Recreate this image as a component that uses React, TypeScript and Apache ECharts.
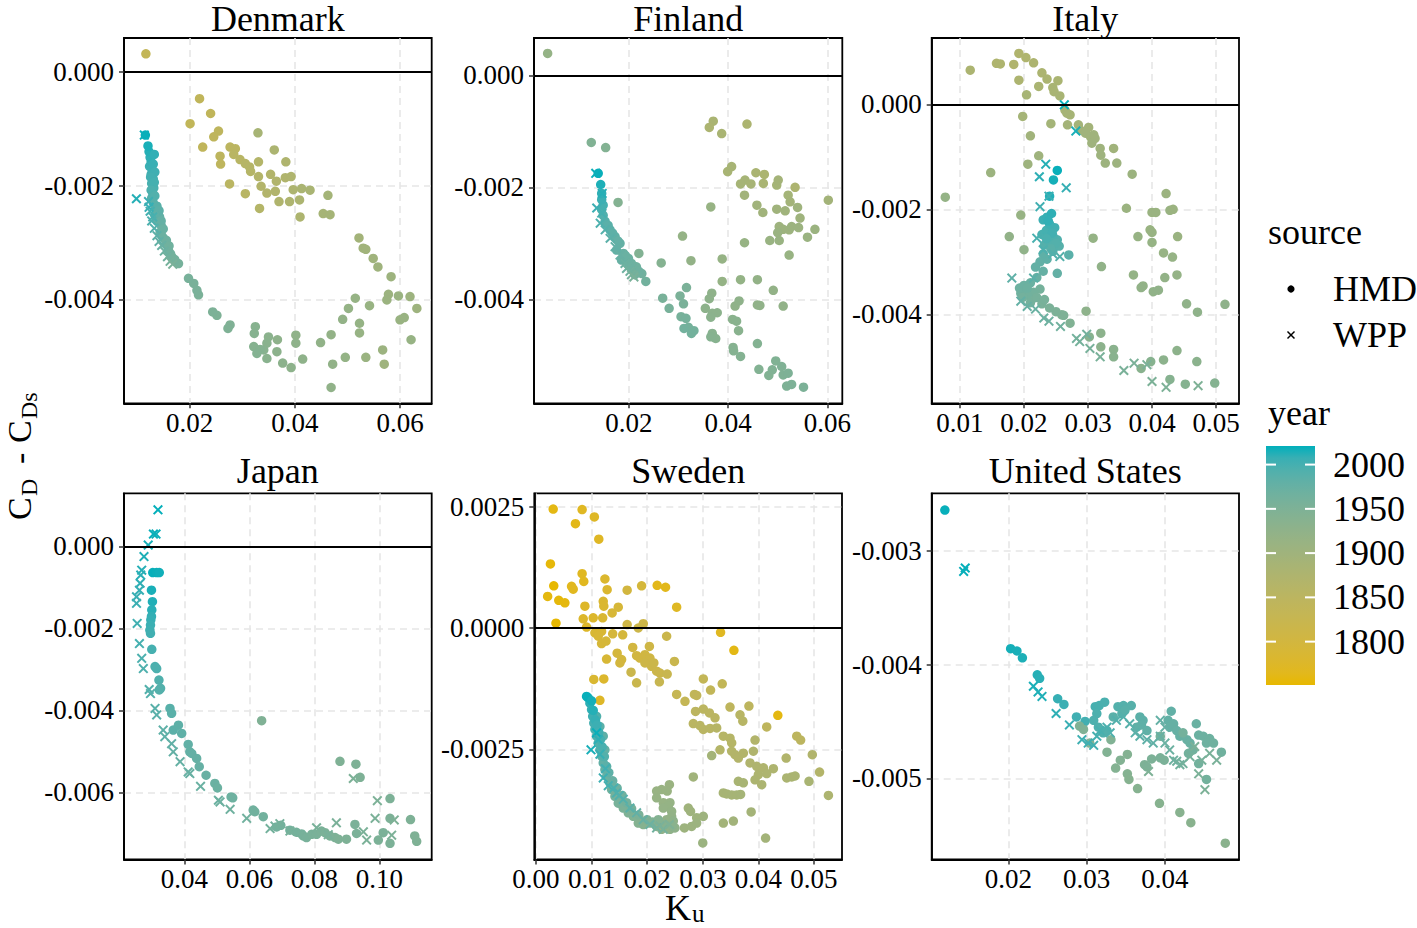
import React, { useEffect, useRef } from "react";
import * as echarts from "echarts";

type P = [number, number, number]; // [K_u, C_D - C_Ds, year]

const countries = ["Denmark", "Finland", "Italy", "Japan", "Sweden", "United States"];
const sources = ["HMD", "WPP"];

const denmarkHMD: P[] = [
  [0.0117,0.00032,1835],[0.0219,-0.00047,1840],[0.0240,-0.00073,1841],[0.0201,-0.00091,1838],[0.0255,-0.00104,1845],
  [0.0246,-0.00114,1843],[0.0330,-0.00107,1888],[0.0225,-0.00132,1842],[0.0277,-0.00132,1850],[0.0287,-0.00135,1852],
  [0.0284,-0.00145,1855],[0.0258,-0.00148,1848],[0.0259,-0.00162,1846],[0.0296,-0.00154,1858],[0.0306,-0.00161,1860],
  [0.0314,-0.00167,1862],[0.0331,-0.00158,1865],[0.0361,-0.00137,1880],[0.0383,-0.00158,1875],[0.0316,-0.00175,1863],
  [0.0331,-0.00184,1866],[0.0354,-0.00180,1868],[0.0365,-0.00192,1870],[0.0382,-0.00186,1872],[0.0393,-0.00184,1874],
  [0.0276,-0.00197,1854],[0.0306,-0.00214,1857],[0.0336,-0.00201,1867],[0.0347,-0.00213,1869],[0.0363,-0.00210,1871],
  [0.0370,-0.00228,1873],[0.0390,-0.00228,1876],[0.0397,-0.00207,1878],[0.0413,-0.00205,1882],[0.0429,-0.00208,1885],
  [0.0409,-0.00225,1879],[0.0410,-0.00255,1877],[0.0333,-0.00240,1864],[0.0463,-0.00217,1892],[0.0454,-0.00249,1890],
  [0.0467,-0.00251,1891],[0.0522,-0.00292,1895],[0.0530,-0.00310,1897],[0.0535,-0.00312,1898],[0.0549,-0.00328,1900],
  [0.0558,-0.00343,1902],[0.0583,-0.00360,1904],[0.0578,-0.00391,1906],[0.0575,-0.00401,1908],[0.0597,-0.00394,1910],
  [0.0619,-0.00395,1905],[0.0632,-0.00416,1903],[0.0600,-0.00436,1912],[0.0608,-0.00432,1911],[0.0621,-0.00471,1914],
  [0.0515,-0.00398,1916],[0.0502,-0.00416,1918],[0.0542,-0.00411,1913],[0.0491,-0.00435,1920],[0.0523,-0.00442,1917],
  [0.0523,-0.00459,1915],[0.0469,-0.00462,1921],[0.0449,-0.00476,1923],[0.0496,-0.00502,1919],[0.0535,-0.00502,1909],
  [0.0567,-0.00489,1907],[0.0570,-0.00514,1901],[0.0472,-0.00514,1922],[0.0469,-0.00555,1924],[0.0415,-0.00505,1926],
  [0.0402,-0.00463,1925],[0.0402,-0.00477,1927],[0.0393,-0.00520,1929],[0.0377,-0.00512,1930],[0.0367,-0.00471,1928],
  [0.0350,-0.00466,1932],[0.0347,-0.00477,1934],[0.0366,-0.00492,1931],[0.0347,-0.00504,1935],[0.0341,-0.00489,1936],
  [0.0325,-0.00448,1937],[0.0323,-0.00460,1938],[0.0322,-0.00483,1939],[0.0334,-0.00488,1940],[0.0328,-0.00495,1941],
  [0.0277,-0.00445,1947],[0.0273,-0.00451,1948],[0.0252,-0.00428,1950],[0.0244,-0.00422,1951],[0.0217,-0.00392,1954],
  [0.0214,-0.00384,1955],[0.0208,-0.00372,1956],[0.0198,-0.00363,1957],[0.0179,-0.00337,1959],[0.0172,-0.00330,1961],
  [0.0164,-0.00320,1963],[0.0160,-0.00314,1965],[0.0155,-0.00302,1967],[0.0150,-0.00292,1969],[0.0144,-0.00282,1972],
  [0.0146,-0.00270,1975],[0.0138,-0.00262,1980],[0.0143,-0.00255,1978],[0.0140,-0.00248,1982],[0.0135,-0.00240,1986],
  [0.0128,-0.00222,1990],[0.0130,-0.00213,1994],[0.0132,-0.00204,1996],[0.0128,-0.00196,1998],[0.0131,-0.00188,2000],
  [0.0127,-0.00180,2002],[0.0129,-0.00172,2004],[0.0124,-0.00166,2006],[0.0127,-0.00158,2008],[0.0125,-0.00150,2010],
  [0.0123,-0.00140,2012],[0.0121,-0.00130,2015],[0.0116,-0.00111,2019],
  [0.0133,-0.00145,2009],[0.0131,-0.00162,2007],[0.0134,-0.00176,2003],[0.0126,-0.00185,2001],[0.0133,-0.00194,1999],
  [0.0127,-0.00208,1995],[0.0134,-0.00218,1992],[0.0131,-0.00230,1988],[0.0138,-0.00236,1987],[0.0142,-0.00244,1984],
  [0.0134,-0.00252,1983],[0.0146,-0.00262,1977],[0.0150,-0.00276,1973],[0.0147,-0.00288,1971],[0.0156,-0.00296,1968],
  [0.0161,-0.00306,1966],[0.0167,-0.00326,1962]
];
const denmarkWPP: P[] = [
  [0.0114,-0.00111,2018],[0.0099,-0.00223,2012],[0.0122,-0.00228,2005],[0.0123,-0.00238,2008],[0.0125,-0.00245,2000],
  [0.0130,-0.00255,1998],[0.0128,-0.00262,1995],[0.0133,-0.00275,1990],[0.0138,-0.00288,1985],[0.0142,-0.00298,1980],
  [0.0147,-0.00305,1975],[0.0152,-0.00315,1970],[0.0158,-0.00325,1965],[0.0163,-0.00333,1960],[0.0168,-0.00338,1955]
];

const finlandHMD: P[] = [
  [0.0036,0.00039,1918],[0.0370,-0.00082,1882],[0.0362,-0.00093,1880],[0.0387,-0.00104,1884],[0.0438,-0.00087,1879],
  [0.0399,-0.00172,1886],[0.0407,-0.00163,1888],[0.0434,-0.00187,1890],[0.0446,-0.00194,1887],[0.0425,-0.00194,1889],
  [0.0456,-0.00174,1883],[0.0473,-0.00177,1881],[0.0471,-0.00193,1885],[0.0498,-0.00196,1891],[0.0501,-0.00187,1893],
  [0.0535,-0.00200,1878],[0.0521,-0.00214,1892],[0.0525,-0.00226,1894],[0.0602,-0.00223,1895],[0.0433,-0.00214,1896],
  [0.0458,-0.00232,1897],[0.0470,-0.00245,1898],[0.0498,-0.00239,1899],[0.0515,-0.00242,1900],[0.0540,-0.00236,1901],
  [0.0545,-0.00255,1902],[0.0503,-0.00270,1903],[0.0511,-0.00275,1904],[0.0523,-0.00276,1905],[0.0528,-0.00270,1906],
  [0.0542,-0.00272,1907],[0.0575,-0.00275,1908],[0.0560,-0.00289,1909],[0.0500,-0.00281,1910],[0.0484,-0.00295,1911],
  [0.0503,-0.00295,1912],[0.0523,-0.00321,1913],[0.0365,-0.00235,1914],[0.0433,-0.00299,1915],[0.0388,-0.00328,1916],
  [0.0388,-0.00368,1917],[0.0425,-0.00365,1919],[0.0459,-0.00365,1920],[0.0491,-0.00384,1921],[0.0511,-0.00412,1922],
  [0.0459,-0.00410,1923],[0.0464,-0.00411,1924],[0.0414,-0.00412,1925],[0.0422,-0.00403,1926],[0.0367,-0.00389,1927],
  [0.0362,-0.00399,1928],[0.0354,-0.00416,1929],[0.0378,-0.00424,1930],[0.0368,-0.00425,1931],[0.0365,-0.00432,1932],
  [0.0409,-0.00436,1933],[0.0417,-0.00439,1934],[0.0421,-0.00456,1935],[0.0368,-0.00461,1936],[0.0375,-0.00470,1937],
  [0.0365,-0.00467,1938],[0.0410,-0.00486,1939],[0.0411,-0.00492,1940],[0.0425,-0.00502,1941],[0.0459,-0.00479,1942],
  [0.0462,-0.00525,1943],[0.0482,-0.00536,1944],[0.0489,-0.00526,1945],[0.0496,-0.00510,1946],[0.0508,-0.00520,1947],
  [0.0511,-0.00535,1948],[0.0521,-0.00532,1949],[0.0518,-0.00555,1950],[0.0528,-0.00552,1951],[0.0552,-0.00557,1952],
  [0.0308,-0.00287,1918],[0.0325,-0.00331,1921],[0.0265,-0.00335,1940],[0.0220,-0.00318,1944],[0.0316,-0.00379,1953],
  [0.0303,-0.00394,1954],[0.0310,-0.00408,1955],[0.0268,-0.00398,1956],[0.0281,-0.00416,1957],[0.0305,-0.00431,1958],
  [0.0315,-0.00434,1959],[0.0320,-0.00450,1960],[0.0331,-0.00456,1961],[0.0326,-0.00461,1962],[0.0311,-0.00452,1963],
  [0.0124,-0.00120,1945],[0.0153,-0.00129,1943],[0.0178,-0.00227,1942],[0.0234,-0.00368,1964],[0.0226,-0.00354,1965],
  [0.0210,-0.00348,1966],[0.0215,-0.00342,1967],[0.0220,-0.00350,1968],[0.0205,-0.00336,1969],[0.0200,-0.00340,1970],
  [0.0199,-0.00327,1971],[0.0189,-0.00318,1973],[0.0185,-0.00330,1975],[0.0182,-0.00300,1977],[0.0175,-0.00312,1979],
  [0.0172,-0.00288,1981],[0.0162,-0.00276,1984],[0.0152,-0.00261,1988],[0.0148,-0.00250,1992],[0.0145,-0.00240,1996],
  [0.0148,-0.00232,2000],[0.0145,-0.00222,2005],[0.0145,-0.00211,2010],[0.0143,-0.00195,2014],[0.0138,-0.00175,2019],
  [0.0158,-0.00268,1986],[0.0167,-0.00282,1983],[0.0178,-0.00296,1978],[0.0193,-0.00322,1972],[0.0212,-0.00356,1963]
];
const finlandWPP: P[] = [
  [0.0133,-0.00175,2018],[0.0146,-0.00211,2012],[0.0135,-0.00237,2005],[0.0145,-0.00246,2000],[0.0142,-0.00264,1995],
  [0.0152,-0.00276,1990],[0.0162,-0.00291,1985],[0.0172,-0.00306,1980],[0.0182,-0.00321,1975],[0.0192,-0.00336,1970],
  [0.0195,-0.00345,1968],[0.0202,-0.00350,1965],[0.0205,-0.00356,1960],[0.0210,-0.00360,1955]
];

const italyHMD: P[] = [
  [0.0116,0.00065,1880],[0.0157,0.00078,1875],[0.0163,0.00077,1876],[0.0184,0.00076,1873],[0.0192,0.00097,1872],
  [0.0203,0.00089,1874],[0.0215,0.00079,1877],[0.0192,0.00046,1878],[0.0228,0.00060,1879],[0.0236,0.00048,1881],
  [0.0253,0.00045,1882],[0.0223,0.00034,1883],[0.0245,0.00032,1884],[0.0247,0.00024,1885],[0.0256,0.00016,1886],
  [0.0204,0.00018,1887],[0.0264,-0.00011,1888],[0.0272,-0.00020,1889],[0.0267,-0.00017,1890],[0.0198,-0.00023,1891],
  [0.0242,-0.00037,1892],[0.0268,-0.00039,1893],[0.0285,-0.00039,1894],[0.0301,-0.00044,1895],[0.0288,-0.00049,1896],
  [0.0296,-0.00055,1897],[0.0304,-0.00062,1898],[0.0309,-0.00058,1899],[0.0311,-0.00065,1900],[0.0306,-0.00074,1901],
  [0.0319,-0.00084,1902],[0.0320,-0.00097,1903],[0.0327,-0.00112,1904],[0.0340,-0.00084,1897],[0.0345,-0.00112,1905],
  [0.0210,-0.00060,1898],[0.0223,-0.00098,1901],[0.0206,-0.00114,1903],[0.0148,-0.00130,1906],[0.0369,-0.00133,1906],
  [0.0077,-0.00177,1918],[0.0422,-0.00170,1907],[0.0360,-0.00198,1908],[0.0400,-0.00206,1909],[0.0406,-0.00206,1910],
  [0.0428,-0.00202,1911],[0.0433,-0.00200,1908],[0.0195,-0.00211,1915],[0.0397,-0.00239,1912],[0.0400,-0.00244,1913],
  [0.0378,-0.00252,1914],[0.0440,-0.00252,1910],[0.0400,-0.00263,1916],[0.0308,-0.00255,1917],[0.0177,-0.00252,1922],
  [0.0200,-0.00277,1925],[0.0418,-0.00283,1915],[0.0432,-0.00291,1916],[0.0321,-0.00309,1923],[0.0371,-0.00325,1919],
  [0.0420,-0.00330,1920],[0.0439,-0.00325,1918],[0.0386,-0.00346,1921],[0.0383,-0.00349,1922],[0.0402,-0.00357,1923],
  [0.0410,-0.00354,1924],[0.0454,-0.00380,1925],[0.0514,-0.00381,1926],[0.0471,-0.00396,1927],[0.0297,-0.00394,1928],
  [0.0320,-0.00436,1930],[0.0320,-0.00462,1931],[0.0340,-0.00467,1933],[0.0340,-0.00481,1934],[0.0302,-0.00443,1936],
  [0.0259,-0.00401,1946],[0.0272,-0.00417,1945],[0.0439,-0.00469,1929],[0.0418,-0.00487,1931],[0.0470,-0.00490,1932],
  [0.0383,-0.00503,1935],[0.0398,-0.00490,1937],[0.0428,-0.00524,1938],[0.0452,-0.00533,1939],[0.0498,-0.00531,1940],
  [0.0262,-0.00402,1950],[0.0250,-0.00395,1952],[0.0240,-0.00388,1954],[0.0228,-0.00380,1956],[0.0212,-0.00372,1958],
  [0.0225,-0.00352,1960],[0.0215,-0.00358,1962],[0.0205,-0.00362,1964],[0.0195,-0.00360,1966],[0.0193,-0.00350,1968],
  [0.0200,-0.00345,1970],[0.0210,-0.00340,1972],[0.0220,-0.00330,1974],[0.0230,-0.00318,1976],[0.0252,-0.00322,1978],
  [0.0225,-0.00300,1980],[0.0236,-0.00295,1982],[0.0245,-0.00280,1984],[0.0270,-0.00287,1986],[0.0255,-0.00270,1988],
  [0.0232,-0.00268,1990],[0.0240,-0.00262,1992],[0.0252,-0.00258,1994],[0.0245,-0.00250,1996],[0.0228,-0.00248,1998],
  [0.0235,-0.00240,2000],[0.0248,-0.00235,2002],[0.0240,-0.00228,2004],[0.0230,-0.00220,2006],[0.0236,-0.00215,2008],
  [0.0243,-0.00208,2010],[0.0240,-0.00175,2013],[0.0246,-0.00144,2016],[0.0252,-0.00126,2019],
  [0.0238,-0.00222,2009],[0.0244,-0.00245,2001],[0.0235,-0.00256,1997],[0.0250,-0.00265,1991],[0.0242,-0.00275,1987],
  [0.0230,-0.00285,1983],[0.0218,-0.00310,1979],[0.0205,-0.00350,1969],[0.0198,-0.00368,1963],[0.0210,-0.00378,1961],
  [0.0220,-0.00368,1959],[0.0232,-0.00372,1957]
];
const italyWPP: P[] = [
  [0.0263,-0.00001,2019],[0.0281,-0.00051,2015],[0.0234,-0.00114,2012],[0.0224,-0.00138,2010],[0.0266,-0.00159,2008],
  [0.0239,-0.00175,2005],[0.0225,-0.00195,2002],[0.0220,-0.00255,1998],[0.0230,-0.00277,1995],[0.0245,-0.00285,1992],
  [0.0256,-0.00290,1990],[0.0215,-0.00331,1985],[0.0181,-0.00331,1982],[0.0195,-0.00375,1978],[0.0205,-0.00385,1975],
  [0.0218,-0.00390,1972],[0.0231,-0.00407,1970],[0.0239,-0.00413,1968],[0.0257,-0.00423,1965],[0.0282,-0.00446,1962],
  [0.0287,-0.00452,1960],[0.0303,-0.00465,1958],[0.0319,-0.00481,1956],[0.0298,-0.00438,1963],[0.0356,-0.00507,1955],
  [0.0372,-0.00493,1954],[0.0392,-0.00496,1953],[0.0400,-0.00528,1952],[0.0422,-0.00539,1951],[0.0472,-0.00536,1950]
];

const japanHMD: P[] = [
  [0.0303,-0.00064,2019],[0.0315,-0.00064,2018],[0.0323,-0.00064,2017],[0.0299,-0.00107,2015],[0.0302,-0.00135,2013],
  [0.0300,-0.00155,2011],[0.0299,-0.00171,2009],[0.0297,-0.00179,2008],[0.0296,-0.00192,2006],[0.0294,-0.00204,2004],
  [0.0296,-0.00212,2002],[0.0300,-0.00251,1999],[0.0310,-0.00293,1996],[0.0315,-0.00298,1995],[0.0322,-0.00326,1993],
  [0.0327,-0.00346,1991],[0.0323,-0.00350,1990],[0.0356,-0.00395,1987],[0.0361,-0.00407,1986],[0.0366,-0.00448,1984],
  [0.0382,-0.00436,1983],[0.0392,-0.00456,1982],[0.0412,-0.00483,1980],[0.0417,-0.00501,1979],[0.0423,-0.00505,1978],
  [0.0438,-0.00517,1977],[0.0446,-0.00537,1976],[0.0467,-0.00558,1974],[0.0494,-0.00578,1972],[0.0502,-0.00589,1971],
  [0.0544,-0.00611,1969],[0.0549,-0.00613,1968],[0.0612,-0.00643,1966],[0.0617,-0.00647,1965],[0.0643,-0.00659,1964],
  [0.0638,-0.00425,1947],[0.0684,-0.00684,1963],[0.0697,-0.00680,1962],[0.0725,-0.00692,1961],[0.0745,-0.00697,1960],
  [0.0761,-0.00701,1959],[0.0766,-0.00706,1958],[0.0776,-0.00710,1957],[0.0792,-0.00702,1956],[0.0807,-0.00702,1955],
  [0.0822,-0.00694,1954],[0.0833,-0.00698,1953],[0.0848,-0.00706,1952],[0.0864,-0.00710,1951],[0.0874,-0.00714,1950],
  [0.0899,-0.00714,1949],[0.0879,-0.00524,1948],[0.0928,-0.00531,1949],[0.0941,-0.00563,1950],[0.1033,-0.00615,1951],
  [0.0925,-0.00678,1953],[0.0930,-0.00700,1954],[0.0997,-0.00716,1952],[0.1012,-0.00698,1953],[0.1033,-0.00663,1951],
  [0.1033,-0.00724,1952],[0.1096,-0.00666,1950],[0.1109,-0.00706,1948],[0.1115,-0.00719,1948]
];
const japanWPP: P[] = [
  [0.0319,0.00089,2020],[0.0305,0.00030,2019],[0.0313,0.00030,2018],[0.0289,0.00003,2016],[0.0276,-0.00025,2014],
  [0.0269,-0.00058,2012],[0.0266,-0.00070,2011],[0.0264,-0.00090,2010],[0.0262,-0.00107,2008],[0.0253,-0.00123,2007],
  [0.0253,-0.00139,2005],[0.0255,-0.00188,2002],[0.0262,-0.00237,1999],[0.0269,-0.00273,1996],[0.0274,-0.00298,1994],
  [0.0292,-0.00349,1991],[0.0296,-0.00359,1990],[0.0310,-0.00395,1987],[0.0315,-0.00411,1986],[0.0335,-0.00448,1983],
  [0.0340,-0.00464,1982],[0.0361,-0.00481,1980],[0.0366,-0.00501,1979],[0.0387,-0.00525,1977],[0.0412,-0.00550,1975],
  [0.0417,-0.00554,1974],[0.0450,-0.00585,1972],[0.0505,-0.00619,1970],[0.0510,-0.00623,1969],[0.0541,-0.00641,1967],
  [0.0592,-0.00663,1965],[0.0664,-0.00688,1962],[0.0679,-0.00682,1961],[0.0694,-0.00676,1960],[0.0725,-0.00694,1958],
  [0.0807,-0.00686,1956],[0.0868,-0.00674,1955],[0.0843,-0.00703,1957],[0.0920,-0.00566,1952],[0.0994,-0.00620,1951],
  [0.0987,-0.00663,1953],[0.1046,-0.00667,1950],[0.1038,-0.00704,1952],[0.0951,-0.00696,1954],[0.0961,-0.00716,1954]
];

const swedenHMD: P[] = [
  [0.0031,0.00245,1760],[0.0083,0.00244,1770],[0.0071,0.00215,1762],[0.0105,0.00229,1773],[0.0113,0.00183,1772],
  [0.0026,0.00132,1755],[0.0032,0.00087,1751],[0.0021,0.00065,1758],[0.0041,0.00057,1756],[0.0052,0.00052,1757],
  [0.0064,0.00086,1765],[0.0067,0.00080,1766],[0.0083,0.00112,1768],[0.0086,0.00096,1767],[0.0088,0.00045,1775],
  [0.0036,0.00010,1752],[0.0085,0.00019,1777],[0.0103,0.00021,1778],[0.0124,0.00101,1780],[0.0128,0.00079,1781],
  [0.0121,0.00055,1782],[0.0122,0.00045,1783],[0.0120,0.00021,1785],[0.0137,0.00031,1790],[0.0148,0.00043,1791],
  [0.0164,0.00078,1800],[0.0190,0.00087,1795],[0.0218,0.00088,1763],[0.0233,0.00084,1764],[0.0253,0.00043,1771],
  [0.0164,0.00007,1810],[0.0193,0.00009,1812],[0.0184,0.00000,1814],[0.0091,0.00002,1776],[0.0106,-0.00010,1786],
  [0.0118,-0.00007,1787],[0.0112,-0.00017,1788],[0.0118,-0.00032,1792],[0.0126,-0.00027,1793],[0.0138,-0.00012,1794],
  [0.0156,-0.00014,1796],[0.0146,-0.00052,1797],[0.0154,-0.00065,1798],[0.0151,-0.00072,1799],[0.0127,-0.00064,1789],
  [0.0174,-0.00040,1801],[0.0181,-0.00057,1802],[0.0187,-0.00062,1803],[0.0196,-0.00055,1804],[0.0205,-0.00062,1807],
  [0.0204,-0.00038,1809],[0.0196,-0.00072,1811],[0.0208,-0.00079,1813],[0.0217,-0.00089,1815],[0.0212,-0.00072,1816],
  [0.0223,-0.00093,1817],[0.0171,-0.00091,1819],[0.0181,-0.00113,1820],[0.0104,-0.00106,1784],[0.0122,-0.00105,1779],
  [0.0115,-0.00149,1774],[0.0235,-0.00017,1818],[0.0249,-0.00069,1821],[0.0236,-0.00095,1823],[0.0222,-0.00111,1826],
  [0.0332,-0.00009,1769],[0.0356,-0.00046,1761],[0.0301,-0.00105,1835],[0.0335,-0.00115,1836],[0.0314,-0.00128,1837],
  [0.0253,-0.00137,1830],[0.0268,-0.00151,1833],[0.0285,-0.00137,1838],[0.0289,-0.00139,1839],[0.0435,-0.00180,1759],
  [0.0287,-0.00172,1850],[0.0301,-0.00167,1851],[0.0312,-0.00175,1852],[0.0322,-0.00185,1853],[0.0283,-0.00197,1854],
  [0.0295,-0.00201,1855],[0.0301,-0.00209,1856],[0.0313,-0.00207,1857],[0.0349,-0.00163,1845],[0.0383,-0.00161,1848],
  [0.0367,-0.00179,1858],[0.0372,-0.00192,1859],[0.0325,-0.00206,1860],[0.0337,-0.00223,1861],[0.0349,-0.00227,1862],
  [0.0352,-0.00237,1863],[0.0331,-0.00251,1864],[0.0352,-0.00254,1865],[0.0358,-0.00261,1866],[0.0364,-0.00268,1867],
  [0.0373,-0.00258,1868],[0.0394,-0.00231,1869],[0.0415,-0.00204,1846],[0.0469,-0.00223,1847],[0.0476,-0.00231,1849],
  [0.0497,-0.00261,1870],[0.0450,-0.00268,1871],[0.0391,-0.00254,1872],[0.0385,-0.00278,1873],[0.0397,-0.00285,1874],
  [0.0409,-0.00288,1875],[0.0427,-0.00290,1876],[0.0400,-0.00302,1877],[0.0415,-0.00300,1878],[0.0394,-0.00313,1879],
  [0.0406,-0.00323,1880],[0.0451,-0.00309,1881],[0.0460,-0.00307,1882],[0.0466,-0.00305,1883],[0.0491,-0.00316,1884],
  [0.0510,-0.00297,1866],[0.0526,-0.00345,1878],[0.0364,-0.00316,1885],[0.0373,-0.00319,1886],[0.0337,-0.00340,1887],
  [0.0343,-0.00342,1888],[0.0352,-0.00344,1889],[0.0361,-0.00344,1890],[0.0368,-0.00343,1891],[0.0316,-0.00263,1892],
  [0.0387,-0.00379,1893],[0.0337,-0.00402,1895],[0.0355,-0.00398,1896],[0.0283,-0.00307,1897],[0.0413,-0.00433,1894],
  [0.0274,-0.00371,1900],[0.0278,-0.00378,1901],[0.0289,-0.00391,1902],[0.0301,-0.00388,1903],[0.0267,-0.00412,1904],
  [0.0280,-0.00409,1905],[0.0289,-0.00402,1906],[0.0300,-0.00443,1908],[0.0240,-0.00323,1910],[0.0236,-0.00336,1911],
  [0.0226,-0.00333,1912],[0.0217,-0.00336,1913],[0.0217,-0.00350,1914],[0.0229,-0.00360,1915],[0.0241,-0.00360,1916],
  [0.0238,-0.00367,1917],[0.0229,-0.00371,1918],[0.0244,-0.00378,1919],[0.0244,-0.00388,1920],[0.0235,-0.00395,1921],
  [0.0226,-0.00402,1922],[0.0217,-0.00409,1923],[0.0226,-0.00415,1924],[0.0241,-0.00415,1925],[0.0250,-0.00412,1926],
  [0.0247,-0.00398,1927],[0.0205,-0.00402,1930],[0.0196,-0.00398,1934],[0.0193,-0.00405,1937],[0.0184,-0.00402,1940],
  [0.0175,-0.00388,1944],[0.0166,-0.00381,1948],[0.0157,-0.00371,1952],[0.0148,-0.00361,1956],[0.0142,-0.00347,1960],
  [0.0136,-0.00333,1964],[0.0133,-0.00319,1968],[0.0127,-0.00306,1972],[0.0124,-0.00292,1976],[0.0124,-0.00251,1978],
  [0.0121,-0.00278,1980],[0.0121,-0.00223,1982],[0.0118,-0.00264,1984],[0.0115,-0.00203,1986],[0.0115,-0.00251,1988],
  [0.0112,-0.00237,1991],[0.0109,-0.00182,1993],[0.0109,-0.00223,1995],[0.0106,-0.00209,1998],[0.0104,-0.00196,2001],
  [0.0102,-0.00182,2004],[0.0100,-0.00168,2007],[0.0097,-0.00155,2010],[0.0094,-0.00144,2014],[0.0091,-0.00141,2019],
  [0.0100,-0.00150,2016],[0.0103,-0.00170,2012],[0.0107,-0.00190,2008],[0.0110,-0.00200,2005],[0.0113,-0.00215,2002],
  [0.0116,-0.00230,1999],[0.0119,-0.00245,1997],[0.0123,-0.00265,1990],[0.0127,-0.00285,1985],[0.0131,-0.00298,1982],
  [0.0138,-0.00315,1974],[0.0146,-0.00330,1970],[0.0155,-0.00345,1966],[0.0163,-0.00360,1962],[0.0172,-0.00372,1958],
  [0.0185,-0.00385,1954],[0.0200,-0.00395,1950],[0.0210,-0.00400,1946],[0.0220,-0.00395,1942],[0.0232,-0.00405,1938],
  [0.0245,-0.00408,1935]
];
const swedenWPP: P[] = [
  [0.0109,-0.00216,2019],[0.0112,-0.00230,2010],[0.0099,-0.00251,2015],[0.0121,-0.00309,2005],[0.0130,-0.00325,2000],
  [0.0145,-0.00340,1995],[0.0157,-0.00353,1990],[0.0169,-0.00371,1985],[0.0181,-0.00381,1980],[0.0193,-0.00395,1975],
  [0.0205,-0.00405,1970],[0.0217,-0.00412,1965],[0.0229,-0.00415,1960],[0.0223,-0.00408,1955],[0.0240,-0.00405,1950],
  [0.0115,-0.00260,2008],[0.0125,-0.00290,2003],[0.0140,-0.00330,1998],[0.0150,-0.00345,1993]
];

const usHMD: P[] = [
  [0.0119,-0.00264,2019],[0.0203,-0.00386,2016],[0.0211,-0.00388,2015],[0.0218,-0.00394,2014],[0.0237,-0.00409,2012],
  [0.0240,-0.00412,2011],[0.0263,-0.00430,2008],[0.0271,-0.00435,2006],[0.0287,-0.00446,2003],[0.0298,-0.00450,2001],
  [0.0311,-0.00437,1999],[0.0316,-0.00436,1998],[0.0323,-0.00433,1997],[0.0313,-0.00443,1996],[0.0309,-0.00449,1995],
  [0.0315,-0.00455,1994],[0.0321,-0.00460,1993],[0.0326,-0.00458,1992],[0.0340,-0.00437,1991],[0.0347,-0.00436,1990],
  [0.0345,-0.00443,1989],[0.0357,-0.00436,1988],[0.0349,-0.00440,1987],[0.0334,-0.00446,1986],[0.0368,-0.00446,1985],
  [0.0372,-0.00449,1984],[0.0370,-0.00453,1983],[0.0364,-0.00455,1982],[0.0377,-0.00458,1981],[0.0408,-0.00441,1980],
  [0.0404,-0.00449,1979],[0.0406,-0.00455,1978],[0.0411,-0.00452,1977],[0.0415,-0.00458,1976],[0.0419,-0.00463,1975],
  [0.0428,-0.00466,1974],[0.0432,-0.00469,1973],[0.0440,-0.00452,1972],[0.0443,-0.00462,1971],[0.0449,-0.00463,1970],
  [0.0457,-0.00465,1969],[0.0453,-0.00469,1968],[0.0462,-0.00469,1967],[0.0472,-0.00477,1966],[0.0436,-0.00475,1965],
  [0.0430,-0.00478,1964],[0.0443,-0.00487,1963],[0.0453,-0.00501,1962],[0.0423,-0.00460,1961],[0.0394,-0.00463,1960],
  [0.0291,-0.00454,1948],[0.0296,-0.00457,1947],[0.0304,-0.00469,1946],[0.0331,-0.00466,1945],[0.0326,-0.00477,1944],
  [0.0343,-0.00484,1943],[0.0337,-0.00491,1942],[0.0352,-0.00479,1941],[0.0352,-0.00496,1940],[0.0354,-0.00501,1939],
  [0.0365,-0.00509,1938],[0.0374,-0.00488,1950],[0.0377,-0.00490,1951],[0.0383,-0.00483,1952],[0.0393,-0.00522,1937],
  [0.0419,-0.00530,1936],[0.0433,-0.00539,1935],[0.0477,-0.00557,1933],[0.0394,-0.00482,1953],[0.0399,-0.00484,1954]
];
const usWPP: P[] = [
  [0.0145,-0.00315,2020],[0.0143,-0.00318,2019],[0.0232,-0.00419,2015],[0.0238,-0.00424,2014],[0.0243,-0.00428,2013],
  [0.0261,-0.00443,2010],[0.0278,-0.00453,2007],[0.0294,-0.00466,2004],[0.0302,-0.00469,2003],[0.0309,-0.00471,2002],
  [0.0313,-0.00463,2000],[0.0317,-0.00458,1998],[0.0326,-0.00455,1996],[0.0330,-0.00460,1994],[0.0338,-0.00449,1992],
  [0.0347,-0.00446,1990],[0.0355,-0.00452,1988],[0.0362,-0.00460,1986],[0.0368,-0.00463,1984],[0.0377,-0.00466,1982],
  [0.0385,-0.00469,1980],[0.0394,-0.00449,1978],[0.0400,-0.00455,1976],[0.0394,-0.00463,1974],[0.0400,-0.00469,1972],
  [0.0406,-0.00475,1970],[0.0411,-0.00484,1968],[0.0415,-0.00485,1966],[0.0419,-0.00488,1964],[0.0423,-0.00487,1962],
  [0.0432,-0.00481,1960],[0.0447,-0.00484,1958],[0.0457,-0.00478,1956],[0.0466,-0.00484,1955],[0.0443,-0.00496,1954],
  [0.0451,-0.00510,1952],[0.0438,-0.00472,1953],[0.0379,-0.00494,1950]
];

const hmdData: P[][] = [denmarkHMD, finlandHMD, italyHMD, japanHMD, swedenHMD, usHMD];
const wppData: P[][] = [denmarkWPP, finlandWPP, italyWPP, japanWPP, swedenWPP, usWPP];

// axis limits
const xLimits: [number, number][] = [
  [0.00754, 0.06602], [0.00085, 0.06302], [0.00558, 0.05359],
  [0.02145, 0.11612], [-0.0003, 0.05504], [0.01022, 0.04945]
];
const yLimits: [number, number][] = [
  [-0.005828, 0.000598], [-0.005857, 0.000666], [-0.005695, 0.001263],
  [-0.007634, 0.001293], [-0.004771, 0.002776], [-0.005714, -0.002493]
];
const xTicks: number[][] = [
  [0.02, 0.04, 0.06], [0.02, 0.04, 0.06], [0.01, 0.02, 0.03, 0.04, 0.05],
  [0.04, 0.06, 0.08, 0.1], [0, 0.01, 0.02, 0.03, 0.04, 0.05], [0.02, 0.03, 0.04]
];
const yTicks: number[][] = [
  [-0.004, -0.002, 0], [-0.004, -0.002, 0], [-0.004, -0.002, 0],
  [-0.006, -0.004, -0.002, 0], [-0.0025, 0, 0.0025], [-0.005, -0.004, -0.003]
];
const xDigits = [2, 2, 2, 2, 2, 2];
const yDigits = [3, 3, 3, 3, 4, 3];

const yearBreaks = [1800, 1850, 1900, 1950, 2000];
const yearLimits: [number, number] = [1751, 2021];
const lowColor = "#E7B800";
const highColor = "#00AFBB";

// ---------- layout (pixels) ----------
const panels = [
  { left: 124, top: 38, width: 307.7, height: 365.3 },
  { left: 534, top: 38, width: 308.3, height: 365.3 },
  { left: 931.7, top: 38, width: 307.3, height: 365.3 },
  { left: 124, top: 493.3, width: 307.7, height: 366.2 },
  { left: 534.3, top: 493.3, width: 307.7, height: 366.2 },
  { left: 931.7, top: 493.3, width: 307.3, height: 366.2 }
];
const FONT = "'Liberation Serif', 'Times New Roman', serif";

// ---------- Lab colour interpolation (like ggplot's gradient) ----------
function hexToRgb(h: string): number[] {
  const n = parseInt(h.slice(1), 16);
  return [(n >> 16) & 255, (n >> 8) & 255, n & 255];
}
function toLin(c: number) { c /= 255; return c <= 0.04045 ? c / 12.92 : Math.pow((c + 0.055) / 1.055, 2.4); }
function fromLin(c: number) { const v = c <= 0.0031308 ? 12.92 * c : 1.055 * Math.pow(c, 1 / 2.4) - 0.055; return Math.max(0, Math.min(255, Math.round(v * 255))); }
function rgbToLab(rgb: number[]) {
  const [r, g, b] = rgb.map(toLin);
  const X = (0.4124 * r + 0.3576 * g + 0.1805 * b) / 0.95047;
  const Y = 0.2126 * r + 0.7152 * g + 0.0722 * b;
  const Z = (0.0193 * r + 0.1192 * g + 0.9505 * b) / 1.08883;
  const f = (t: number) => (t > 0.008856 ? Math.cbrt(t) : 7.787 * t + 16 / 116);
  const fx = f(X), fy = f(Y), fz = f(Z);
  return [116 * fy - 16, 500 * (fx - fy), 200 * (fy - fz)];
}
function labToHex(lab: number[]) {
  const fy = (lab[0] + 16) / 116, fx = fy + lab[1] / 500, fz = fy - lab[2] / 200;
  const inv = (t: number) => (t * t * t > 0.008856 ? t * t * t : (t - 16 / 116) / 7.787);
  const X = inv(fx) * 0.95047, Y = inv(fy), Z = inv(fz) * 1.08883;
  const r = 3.2406 * X - 1.5372 * Y - 0.4986 * Z;
  const g = -0.9689 * X + 1.8758 * Y + 0.0415 * Z;
  const b = 0.0557 * X - 0.204 * Y + 1.057 * Z;
  return "#" + [r, g, b].map((c) => fromLin(c).toString(16).padStart(2, "0")).join("");
}
function gradientColors(n: number): string[] {
  const a = rgbToLab(hexToRgb(lowColor)), b = rgbToLab(hexToRgb(highColor));
  const out: string[] = [];
  for (let i = 0; i < n; i++) {
    const t = i / (n - 1);
    out.push(labToHex([0, 1, 2].map((k) => a[k] + (b[k] - a[k]) * t)));
  }
  return out;
}

const CROSS = "path://M1.4,0 L5,3.6 L8.6,0 L10,1.4 L6.4,5 L10,8.6 L8.6,10 L5,6.4 L1.4,10 L0,8.6 L3.6,5 L0,1.4 Z";

function txt(text: string, x: number, y: number, size: number, lineHeight?: number, align = "left") {
  return {
    type: "text", x, y,
    style: { text, fontFamily: FONT, fontSize: size, lineHeight: lineHeight ?? size, fill: "#000", align, verticalAlign: "middle" }
  };
}

export default function App() {
  const ref = useRef<HTMLDivElement>(null);
  useEffect(() => {
    if (!ref.current) return;
    const chart = echarts.init(ref.current, undefined, { renderer: "svg" });
    const colors = gradientColors(21);

    const grid: any[] = [], xAxis: any[] = [], yAxis: any[] = [], series: any[] = [];
    const graphic: any[] = [];

    countries.forEach((name, i) => {
      const p = panels[i];
      grid.push({
        left: p.left, top: p.top, width: p.width, height: p.height,
        show: true, borderColor: "#000", borderWidth: 1.8, backgroundColor: "transparent",
        containLabel: false, outerBoundsMode: "none"
      });
      const common = {
        type: "value",
        gridIndex: i,
        axisLine: { show: true, onZero: false, lineStyle: { color: "#000", width: 1.8 } },
        splitLine: { show: true, lineStyle: { color: "#E6E6E6", width: 1.6, type: [7, 5] } },
        minorSplitLine: { show: false },
      };
      xAxis.push({
        ...common,
        min: xLimits[i][0], max: xLimits[i][1],
        axisTick: { show: true, length: 5, lineStyle: { color: "#333", width: 1.5 }, customValues: xTicks[i] },
        axisLabel: {
          customValues: xTicks[i], formatter: (v: number) => v.toFixed(xDigits[i]),
          fontFamily: FONT, fontSize: 27, color: "#000", margin: 6
        }
      });
      yAxis.push({
        ...common,
        min: yLimits[i][0], max: yLimits[i][1],
        axisTick: { show: true, length: 5, lineStyle: { color: "#333", width: 1.5 }, customValues: yTicks[i] },
        axisLabel: {
          customValues: yTicks[i], formatter: (v: number) => v.toFixed(yDigits[i]),
          fontFamily: FONT, fontSize: 27, color: "#000", margin: 10
        }
      });
      const hasZero = yLimits[i][0] < 0 && yLimits[i][1] > 0;
      series.push({
        type: "scatter", name: sources[0], xAxisIndex: i, yAxisIndex: i,
        data: hmdData[i], symbol: "circle", symbolSize: 9.5,
        itemStyle: { opacity: 1 },
        markLine: hasZero ? {
          silent: true, symbol: ["none", "none"], label: { show: false },
          lineStyle: { color: "#000", width: 1.8, type: "solid" },
          data: [{ yAxis: 0 }]
        } : undefined
      });
      series.push({
        type: "scatter", name: sources[1], xAxisIndex: i, yAxisIndex: i,
        data: wppData[i], symbol: CROSS, symbolSize: 10,
        itemStyle: { opacity: 1 }
      });
      graphic.push(txt(name, p.left + p.width / 2, i < 3 ? 19 : 471, 36, 36, "center"));
    });

    // axis titles
    graphic.push({
      type: "group", x: 665, y: 908,
      children: [txt("K", 0, 0, 36, 28), txt("u", 27, 5, 25, 18)]
    });
    graphic.push({
      type: "group", x: 19, y: 520, rotation: Math.PI / 2,
      children: [
        txt("C", 0, 0, 34, 24),
        txt("D", 24, 10, 24, 18),
        txt("-", 56, 0, 34, 24),
        txt("C", 77, 0, 34, 24),
        txt("Ds", 101, 10, 24, 18)
      ]
    });

    // legend: source
    const lx = 1268;
    graphic.push(txt("source", lx, 232, 36));
    graphic.push({ type: "circle", shape: { cx: 1291, cy: 289, r: 3.6 }, style: { fill: "#000" } });
    graphic.push(txt(sources[0], 1333, 289, 36));
    graphic.push({ type: "line", shape: { x1: 1287.5, y1: 331.5, x2: 1294.5, y2: 338.5 }, style: { stroke: "#000", lineWidth: 1.5 } });
    graphic.push({ type: "line", shape: { x1: 1294.5, y1: 331.5, x2: 1287.5, y2: 338.5 }, style: { stroke: "#000", lineWidth: 1.5 } });
    graphic.push(txt(sources[1], 1333, 335, 36));

    // legend: year colourbar
    graphic.push(txt("year", lx, 413, 36));
    const barTop = 446, barH = 239, barL = 1266, barW = 49;
    const stops = colors.map((c, k) => ({ offset: 1 - k / (colors.length - 1), color: c }));
    stops.reverse();
    graphic.push({
      type: "rect", shape: { x: barL, y: barTop, width: barW, height: barH },
      style: { fill: new echarts.graphic.LinearGradient(0, 0, 0, 1, stops) }
    });
    yearBreaks.forEach((yr) => {
      const yy = barTop + ((yearLimits[1] - yr) / (yearLimits[1] - yearLimits[0])) * barH;
      graphic.push({ type: "line", shape: { x1: barL, y1: yy, x2: barL + 10, y2: yy }, style: { stroke: "#fff", lineWidth: 2 } });
      graphic.push({ type: "line", shape: { x1: barL + barW - 10, y1: yy, x2: barL + barW, y2: yy }, style: { stroke: "#fff", lineWidth: 2 } });
      graphic.push(txt(String(yr), 1333, yy, 36));
    });

    chart.setOption({
      animation: false,
      backgroundColor: "#fff",
      grid, xAxis, yAxis, series, graphic,
      visualMap: {
        type: "continuous", show: false, dimension: 2,
        min: yearLimits[0], max: yearLimits[1],
        seriesIndex: series.map((_, k) => k),
        inRange: { color: colors }
      }
    });
    return () => chart.dispose();
  }, []);
  return <div ref={ref} style={{ position: "absolute", left: 0, top: 0, width: 1417, height: 928 }} />;
}
